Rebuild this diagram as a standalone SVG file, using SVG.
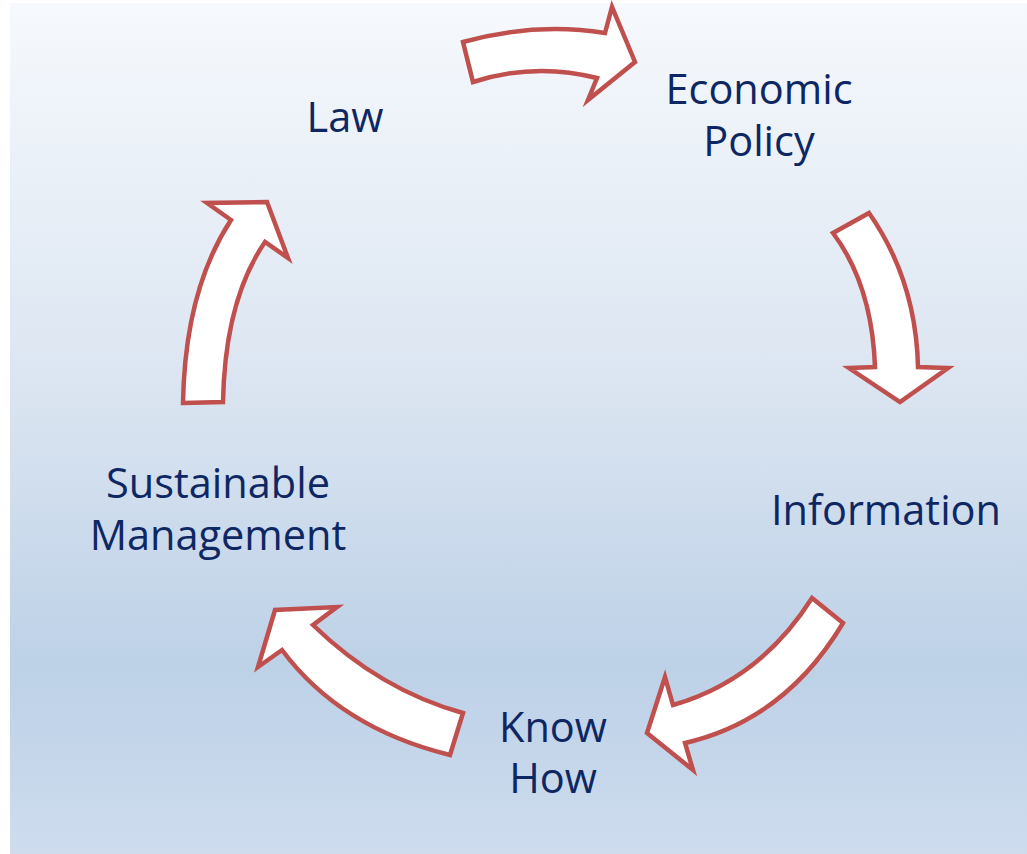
<svg xmlns="http://www.w3.org/2000/svg" width="1027" height="854" viewBox="0 0 1027 854">
<defs>
<linearGradient id="bg" x1="0" y1="0" x2="0" y2="1">
<stop offset="0" stop-color="#f6f9fd"/>
<stop offset="0.45" stop-color="#dbe5f1"/>
<stop offset="0.78" stop-color="#bdd1e7"/>
<stop offset="1" stop-color="#cedcee"/>
</linearGradient>
<style>
.arrow{fill:#ffffff;stroke:#c0504d;stroke-width:4.5;stroke-linejoin:miter;stroke-miterlimit:10}
.lbl{font-family:"Open Sans","Noto Sans","Liberation Sans",sans-serif;font-size:41.5px;fill:#0e2763;text-anchor:middle}
</style>
</defs>
<rect x="0" y="0" width="1027" height="854" fill="#ffffff"/>
<rect x="10" y="3" width="1017" height="851" fill="url(#bg)"/>
<g id="connectors">
<path class="arrow" d="M463,42 Q535,22 605,33 L612,7 L635,62 L588,100 L597,78 Q535,62 473,82 Z"/>
<path class="arrow" d="M833,233 L869,213 Q916,280 918,367 L948,368 L900,402 L849,368 L875,367 Q872,285 833,233 Z"/>
<path class="arrow" d="M812,598 L843,623 Q785,720 685,743 L693,770 L647,733 L665,677 L673,705 Q760,680 812,598 Z"/>
<path class="arrow" d="M463,713 L450,755 Q340,728 282,650 L258,667 L275,610 L337,607 L313,625 Q380,690 463,713 Z"/>
<path class="arrow" d="M183,403 L223,402 Q225,300 265,242 L288,258 L267,202 L207,203 L231,220 Q185,290 183,403 Z"/>
</g>
<g id="node-law"><text class="lbl" x="345" y="132">Law</text></g>
<g id="node-economic-policy"><text class="lbl" x="759" y="104">Economic</text><text class="lbl" x="759" y="156">Policy</text></g>
<g id="node-information"><text class="lbl" x="886" y="525">Information</text></g>
<g id="node-know-how"><text class="lbl" x="553" y="742">Know</text><text class="lbl" x="553" y="793">How</text></g>
<g id="node-sustainable-management"><text class="lbl" x="218" y="498">Sustainable</text><text class="lbl" x="218" y="550">Management</text></g>
</svg>
